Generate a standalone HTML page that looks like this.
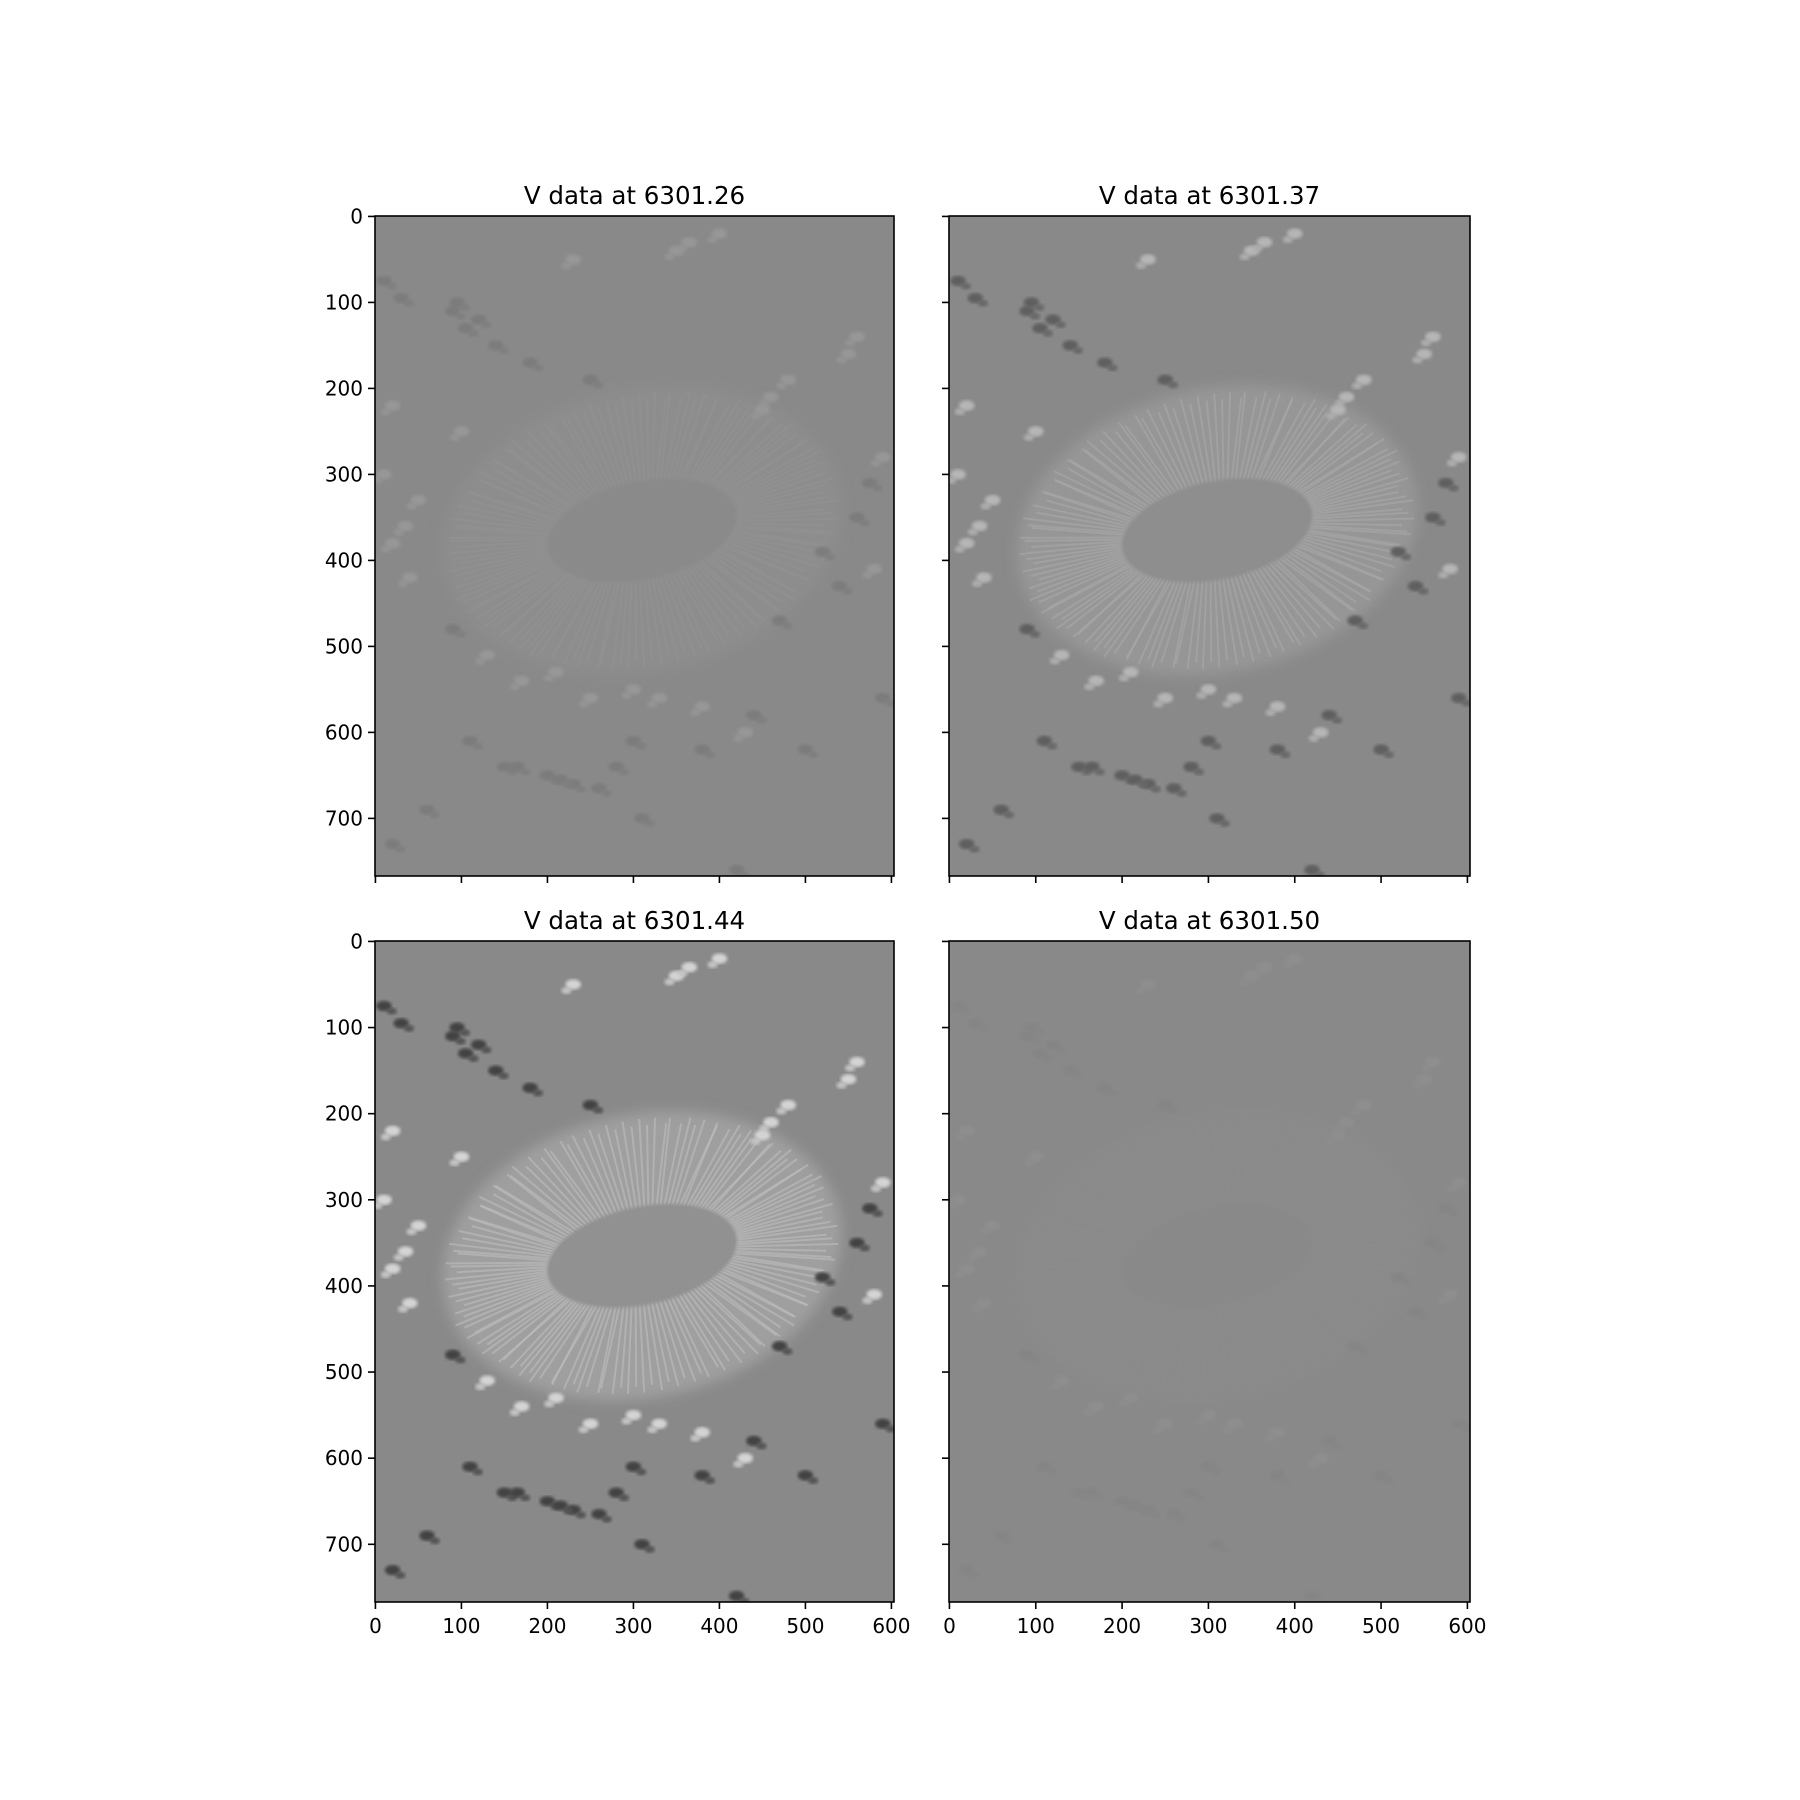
<!DOCTYPE html>
<html><head><meta charset="utf-8"><style>
html,body{margin:0;padding:0;background:#fff;width:1800px;height:1800px;overflow:hidden}
svg{display:block;font-family:"DejaVu Sans","Liberation Sans",sans-serif}
</style></head><body>
<svg id="fig" width="1800" height="1800" viewBox="0 0 1800 1800"></svg>
<script>
const titles = ["V data at 6301.26","V data at 6301.37","V data at 6301.44","V data at 6301.50"];
const strength = [0.18, 0.6, 1.0, 0.06];
const xTicks = [0,100,200,300,400,500,600];
const yTicks = [0,100,200,300,400,500,600,700];
const darkX = [10,90,105,140,90,110,150,200,230,280,310,420,20,60,520,560,440,500,470,180,250,380,95,120,165,215,260,300,540,575,30,590];
const darkY = [75,110,130,150,480,610,640,650,660,640,700,760,730,690,390,350,580,620,470,170,190,620,100,120,640,655,665,610,430,310,95,560];
const brightX = [20,50,20,40,230,350,400,460,550,590,580,130,380,430,100,170,250,330,10,35,365,480,300,210,450,560];
const brightY = [220,330,380,420,50,40,20,210,160,280,410,510,570,600,250,540,560,560,300,360,30,190,550,530,225,140];
const XMAX = 603.5, YMAX = 767.5;
const cols = [[375,894],[949,1470]];
const rows = [[216,876],[941,1602]];
const NS = "http://www.w3.org/2000/svg";
const fig = document.getElementById('fig');
function mk(tag, attrs, parent){const e=document.createElementNS(NS,tag);for(const k in attrs)e.setAttribute(k,attrs[k]);(parent||fig).appendChild(e);return e;}
function gray(v){v=Math.max(0,Math.min(255,Math.round(v)));return `rgb(${v},${v},${v})`;}
const defs=mk('defs',{});
mk('feGaussianBlur',{stdDeviation:1.5},mk('filter',{id:'blur'},defs));
mk('feGaussianBlur',{stdDeviation:6},mk('filter',{id:'blur2',x:'-20%',y:'-20%',width:'140%',height:'140%'},defs));
for(let p=0;p<4;p++){
  const [x0,x1]=cols[p%2], [y0,y1]=rows[Math.floor(p/2)];
  const sx=v=>x0+(v+0.5)/XMAX*(x1-x0), sy=v=>y0+(v+0.5)/YMAX*(y1-y0);
  const s=strength[p];
  const g=mk('g',{});
  
  
  const cp=mk('clipPath',{id:'cp'+p},g);
  mk('rect',{x:x0,y:y0,width:x1-x0,height:y1-y0},cp);
  const img=mk('g',{'clip-path':`url(#cp${p})`},g);
  
  
  mk('rect',{x:x0,y:y0,width:x1-x0,height:y1-y0,fill:'#898989'},img);
  const cx=sx(310), cy=sy(365), k=(x1-x0)/XMAX;
  const rot=`rotate(-12 ${cx} ${cy})`;
  const pen=mk('ellipse',{cx,cy,rx:235*k,ry:165*k,fill:gray(137+22*s),transform:rot,filter:'url(#blur2)'},img);
  
  
  for(let a=0;a<360;a+=2.5){
    const r=a*Math.PI/180, c=Math.cos(r), sn=Math.sin(r);
    const l=mk('line',{x1:cx+110*k*c,y1:cy+55*k*sn,x2:cx+(215+(a%7)*3)*k*c,y2:cy+(150+(a%5)*3)*k*sn,stroke:gray(137+55*s),'stroke-width':2,opacity:0.55,transform:rot},img);
    
    
  }
  const um=mk('ellipse',{cx:cx,cy:cy,rx:112*k,ry:57*k,fill:gray(137+8*s),transform:rot,filter:'url(#blur)'},img);
  
  
  for(let i=0;i<darkX.length;i++){
    const e=mk('ellipse',{cx:sx(darkX[i]),cy:sy(darkY[i]),rx:9*k,ry:6*k,fill:gray(137-70*s),filter:'url(#blur)'},img);
    
    
    const e2=mk('ellipse',{cx:sx(darkX[i]+9),cy:sy(darkY[i]+6),rx:6*k,ry:4*k,fill:gray(137-55*s),filter:'url(#blur)'},img);
    
    
  }
  for(let i=0;i<brightX.length;i++){
    const e=mk('ellipse',{cx:sx(brightX[i]),cy:sy(brightY[i]),rx:9*k,ry:6*k,fill:gray(137+75*s),filter:'url(#blur)'},img);
    
    
    const e2=mk('ellipse',{cx:sx(brightX[i]-8),cy:sy(brightY[i]+7),rx:6*k,ry:4*k,fill:gray(137+60*s),filter:'url(#blur)'},img);
    
    
  }
  const fr=mk('rect',{x:x0,y:y0,width:x1-x0,height:y1-y0,fill:'none',stroke:'#000','stroke-width':1.6},g);
  
  
  const t=mk('text',{x:(x0+x1)/2,y:y0-12,'text-anchor':'middle','font-size':24.5,fill:'#000'},g);
  t.textContent=titles[p];
  
  
  const bottom=Math.floor(p/2)===1, left=p%2===0;
  xTicks.forEach(v=>{
    const x=sx(v);
    const tk=mk('line',{x1:x,x2:x,y1:y1,y2:y1+7,stroke:'#000','stroke-width':1.6},g);
    
    
    if(bottom){const tl=mk('text',{x:x,y:y1+31,'text-anchor':'middle','font-size':20,fill:'#000'},g);tl.textContent=v;
      
      }
  });
  yTicks.forEach(v=>{
    const y=sy(v);
    const tk=mk('line',{x1:x0-7,x2:x0,y1:y,y2:y,stroke:'#000','stroke-width':1.6},g);
    
    
    if(left){const tl=mk('text',{x:x0-12,y:y+7,'text-anchor':'end','font-size':20,fill:'#000'},g);tl.textContent=v;
      
      }
  });
}
</script>
</body></html>
